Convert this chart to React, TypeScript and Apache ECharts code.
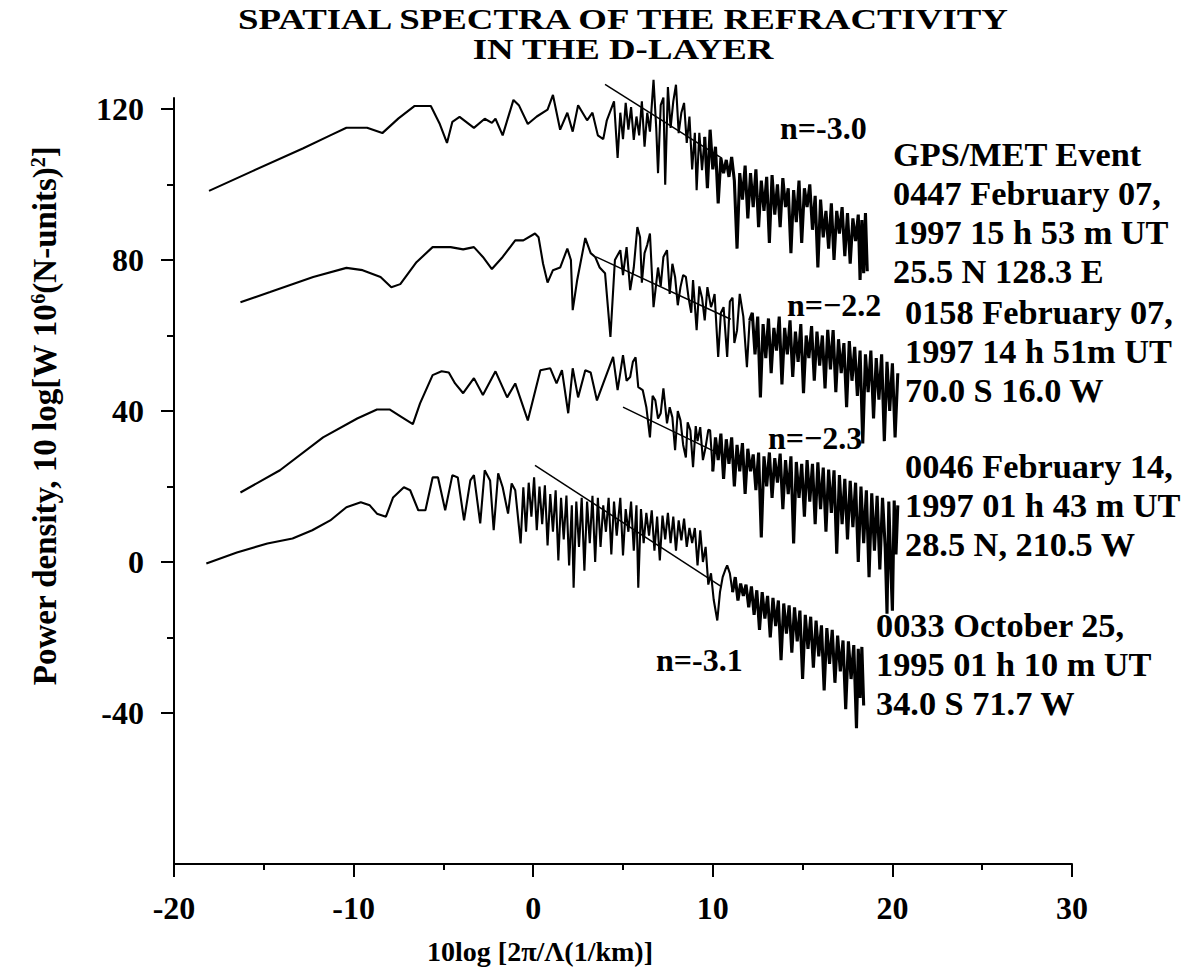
import React, { useEffect, useRef } from "react";
import * as echarts from "echarts";

// ---- data ----
const xTickValues = [-20, -10, 0, 10, 20, 30];
const yLabelValues = [-40, 0, 40, 80, 120];
const yMinorValues = [-20, 20, 60, 100];

// Event 0447 Feb 07 1997
const curve1: number[][] = [
  [-18.05, 98.3], [-15.6, 103.6], [-12.8, 109.6], [-11.3, 113], [-10.4, 115], [-9.25, 115], [-8.4, 113.6],
  [-7.5, 117.5], [-6.6, 120.8], [-5.7, 120.8], [-5.2, 116], [-4.8, 111], [-4.5, 116.6], [-4.1, 117.9],
  [-3.3, 115], [-2.7, 117.4], [-2.3, 116.3], [-2.1, 117.4], [-1.7, 113], [-1.1, 122.4], [-0.8, 121],
  [-0.3, 116], [0.2, 118], [0.8, 119.8], [1.1, 123.7], [1.5, 114.5], [1.9, 119], [2.2, 114], [2.5, 121],
  [3.0, 117], [3.3, 119], [3.6, 113], [3.9, 112], [4.1, 117], [4.5, 122],
  [4.7, 107], [4.85, 119], [5.0, 112], [5.15, 121.6], [5.3, 114.5], [5.45, 120.5], [5.6, 111.8], [5.75, 118],
  [5.9, 113], [6.05, 122], [6.2, 110], [6.35, 119], [6.5, 114], [6.7, 127.7], [6.85, 115], [6.95, 103],
  [7.1, 121], [7.25, 123], [7.35, 99.9], [7.5, 125.8], [7.65, 115], [7.8, 122], [7.95, 126.4], [8.1, 113.6],
  [8.25, 119], [8.4, 121.6], [8.55, 111], [8.7, 118], [8.85, 104], [9.0, 113.7], [9.1, 98.5], [9.25, 113.7],
  [9.4, 103.8], [9.55, 112.6], [9.7, 99], [9.85, 114.5], [10.0, 104], [10.15, 110], [10.3, 95], [10.45, 107],
  [10.6, 103], [10.75, 106.5], [10.9, 102], [11.05, 107.3], [11.2, 101], [11.35, 83], [11.5, 103], [11.65, 96],
  [11.8, 105], [11.95, 91], [12.1, 103], [12.25, 94], [12.4, 104], [12.55, 88.7], [12.7, 101], [12.85, 93],
  [13.0, 102], [13.15, 84.5], [13.3, 102.5], [13.45, 92], [13.6, 100], [13.75, 88.7], [13.9, 101.7], [14.05, 94],
  [14.2, 99], [14.35, 81.8], [14.5, 98.5], [14.65, 90], [14.8, 101], [14.95, 84.5], [15.1, 99], [15.25, 94],
  [15.4, 100], [15.55, 88], [15.7, 97], [15.85, 78], [16.0, 96], [16.15, 86], [16.3, 93], [16.45, 83],
  [16.6, 95], [16.75, 80], [16.9, 93], [17.05, 87], [17.2, 94], [17.35, 81], [17.5, 92.4], [17.65, 79],
  [17.8, 91], [17.95, 85], [18.1, 92], [18.2, 74.7], [18.3, 90.6], [18.4, 76.5], [18.5, 92.4], [18.6, 77],
];

// Event 0158 Feb 07 1997
const curve2: number[][] = [
  [-16.3, 68.8], [-14.65, 71.5], [-12.25, 75.5], [-10.4, 77.9], [-9.5, 77.3], [-8.5, 75.5], [-7.9, 72.8],
  [-7.4, 73.6], [-6.5, 79.4], [-5.6, 83.4], [-4.6, 83.4], [-3.9, 82.8], [-3.3, 83.4], [-2.8, 80.8],
  [-2.3, 77.6], [-1.7, 80.8], [-1.0, 85.2], [-0.55, 85.2], [0.1, 87], [0.3, 86], [0.55, 79], [0.8, 74],
  [1.1, 77.3], [1.5, 78], [1.9, 83], [2.1, 80], [2.2, 66.7], [2.45, 74.7], [2.9, 85.8], [3.2, 81.8],
  [3.45, 80.8], [3.7, 78], [4.0, 76.5], [4.3, 59.6], [4.55, 80], [4.85, 82.6], [5.0, 76], [5.2, 83.4],
  [5.4, 72], [5.6, 78], [5.8, 88.7], [5.95, 86], [6.05, 74], [6.2, 81.8], [6.35, 84], [6.5, 87], [6.7, 67.5],
  [6.95, 78], [7.1, 73], [7.25, 80.8], [7.45, 82.6], [7.6, 71], [7.75, 79], [7.9, 75.5], [8.05, 68],
  [8.2, 72.8], [8.35, 76], [8.5, 75.5], [8.65, 70], [8.8, 66], [8.9, 74.7], [9.1, 61.4], [9.25, 73],
  [9.4, 70], [9.55, 64], [9.7, 72.8], [9.9, 67.5], [10.0, 69], [10.1, 71], [10.3, 54.3], [10.45, 66],
  [10.6, 67.5], [10.8, 54.3], [10.95, 69], [11.1, 70], [11.2, 58], [11.35, 61.4], [11.5, 71], [11.7, 65],
  [11.9, 51.6], [12.05, 64], [12.2, 66], [12.35, 55], [12.5, 65], [12.65, 43.6], [12.8, 63], [12.95, 54],
  [13.1, 64.5], [13.25, 50], [13.4, 62], [13.55, 56], [13.7, 65], [13.85, 47], [14.0, 62], [14.15, 55],
  [14.3, 64], [14.45, 49], [14.6, 61], [14.75, 53], [14.9, 63], [15.05, 44.7], [15.2, 60], [15.35, 54],
  [15.5, 62.5], [15.65, 48], [15.8, 61], [15.95, 52], [16.1, 60], [16.25, 46], [16.4, 61.5], [16.55, 51],
  [16.7, 61.4], [16.85, 45], [17.0, 59], [17.15, 50], [17.3, 58], [17.45, 41], [17.6, 58.5], [17.75, 48],
  [17.9, 57], [18.05, 44], [18.2, 56], [18.35, 31.4], [18.5, 55], [18.65, 45], [18.8, 56], [18.95, 38],
  [19.1, 54], [19.25, 43], [19.4, 55], [19.55, 32], [19.7, 53], [19.85, 40], [20.0, 52.6], [20.15, 33],
  [20.3, 50],
];

// Event 0046 Feb 14 1997
const curve3: number[][] = [
  [-16.3, 18.4], [-14.1, 24.3], [-11.7, 33], [-9.8, 38], [-8.7, 40.4], [-8.0, 40.4], [-7.3, 38.3],
  [-6.7, 36.5], [-6.3, 42], [-5.6, 49.5], [-5.1, 50.5], [-4.7, 50.2], [-4.35, 47.3], [-3.9, 44.7],
  [-3.3, 48.7], [-2.8, 44.2], [-2.1, 50.5], [-1.45, 43.6], [-1.0, 47.3], [-0.3, 37.5], [0.4, 50.8],
  [0.95, 51.3], [1.3, 47.3], [1.6, 50.8], [1.95, 39.4], [2.2, 51.3], [2.5, 43.6], [2.9, 50.8], [3.2, 50.2],
  [3.55, 42.8], [3.9, 47.3], [4.45, 54.3], [4.7, 45.5], [5.0, 54.8], [5.2, 48], [5.4, 49], [5.55, 53],
  [5.7, 54.2], [5.85, 46.3], [6.1, 45.5], [6.3, 41], [6.5, 33], [6.65, 44], [6.8, 42.8], [6.95, 38],
  [7.1, 39.4], [7.25, 46], [7.45, 36.7], [7.6, 41], [7.75, 38.3], [7.9, 29.6], [8.05, 40], [8.2, 37.5],
  [8.35, 31], [8.5, 27.7], [8.6, 37], [8.75, 34.9], [8.9, 25.1], [9.05, 36], [9.15, 32], [9.3, 35.7],
  [9.45, 27], [9.6, 30.4], [9.75, 35], [9.85, 34.9], [10.0, 24], [10.15, 33], [10.3, 27], [10.45, 34],
  [10.6, 22], [10.75, 32.5], [10.9, 26], [11.05, 33], [11.2, 20], [11.35, 31], [11.5, 24], [11.65, 31.5],
  [11.8, 18], [11.95, 30], [12.1, 24], [12.25, 28.5], [12.4, 19], [12.55, 29], [12.7, 6.5], [12.85, 28],
  [13.0, 20], [13.15, 29], [13.3, 17], [13.45, 27.5], [13.6, 21], [13.75, 28.7], [13.9, 14], [14.05, 27],
  [14.2, 18], [14.35, 28], [14.5, 4.9], [14.65, 26.5], [14.8, 17], [14.95, 26], [15.1, 12], [15.25, 27],
  [15.4, 16], [15.55, 26], [15.7, 10], [15.85, 26.4], [16.0, 14], [16.15, 25], [16.3, 8], [16.45, 24.5],
  [16.6, 13], [16.75, 24.3], [16.9, 2.2], [17.05, 23], [17.2, 10], [17.35, 22], [17.5, 6], [17.65, 21.5],
  [17.8, 9.2], [17.95, 21], [18.1, 0], [18.25, 20], [18.4, 5], [18.55, 19], [18.7, -4], [18.85, 18.2],
  [19.0, 3], [19.15, 17.5], [19.3, -2], [19.45, 17], [19.6, 3.8], [19.7, -13.7], [19.8, 16], [19.9, 0],
  [20.0, -12.9], [20.1, 16.3], [20.2, 2], [20.3, 15],
];

// Event 0033 Oct 25 1995
const curve4: number[][] = [
  [-18.2, -0.4], [-16.5, 2.5], [-14.8, 4.9], [-13.4, 6.2], [-12.3, 8.4], [-11.3, 11], [-10.4, 14.5],
  [-9.6, 15.8], [-9.1, 15], [-8.7, 12.8], [-8.2, 12], [-7.8, 17.1], [-7.2, 19.8], [-6.85, 19], [-6.4, 13.7],
  [-6.0, 13.7], [-5.6, 22.4], [-5.3, 22.4], [-4.9, 13.7], [-4.5, 23], [-4.2, 22.4], [-3.85, 11], [-3.5, 21.6],
  [-3.3, 23], [-2.95, 10.2], [-2.7, 24.3], [-2.4, 21.6], [-2.2, 8.4], [-1.95, 23.5], [-1.7, 19.8],
  [-1.4, 12.8], [-1.2, 20.8], [-1.0, 19], [-0.7, 4.9], [-0.55, 19.8], [-0.4, 8], [-0.25, 21], [-0.1, 12],
  [0.05, 22.4], [0.2, 8.4], [0.35, 20], [0.5, 10], [0.65, 20.3], [0.8, 4.4], [0.95, 18], [1.1, 8], [1.25, 19],
  [1.4, 0.4], [1.55, 17], [1.7, 6], [1.85, 17.6], [2.0, -0.9], [2.15, 15], [2.25, -6.8], [2.4, 16], [2.55, 4],
  [2.7, 17], [2.85, -2.3], [3.0, 16], [3.15, 5], [3.3, 17.5], [3.45, 0], [3.6, 17], [3.75, 4], [3.9, 15],
  [4.05, 8], [4.2, 17], [4.35, 2], [4.5, 16], [4.65, 7], [4.85, 17], [5.0, 1.7], [5.15, 14], [5.3, 8],
  [5.45, 16], [5.6, 3], [5.75, 15], [5.85, -6.8], [6.0, 14], [6.15, 5], [6.3, 13], [6.45, 7], [6.6, 13.7],
  [6.75, 3], [6.9, 12], [7.05, 0.4], [7.2, 12.3], [7.35, 6], [7.5, 13], [7.65, 5], [7.8, 12], [7.95, 3],
  [8.1, 11], [8.25, 5.7], [8.4, 11.5], [8.55, 4], [8.7, 9], [8.85, 5], [9.0, 9], [9.15, -0.9], [9.3, 8.4],
  [9.45, 0], [9.6, 4], [9.75, -6], [9.9, -3], [10.05, -10], [10.25, -15.5], [10.4, -8], [10.55, -4],
  [10.7, -2], [10.8, -0.9], [10.95, -3], [11.1, -8], [11.25, -4], [11.4, -10.2], [11.55, -5.7], [11.7, -9],
  [11.85, -6], [12.0, -12], [12.15, -6.5], [12.3, -14], [12.45, -7.5], [12.6, -18], [12.75, -8], [12.9, -15],
  [13.05, -9], [13.2, -20], [13.35, -9.5], [13.5, -17], [13.65, -10.2], [13.8, -26], [13.95, -11], [14.1, -19],
  [14.25, -11.5], [14.4, -24], [14.55, -12], [14.7, -21], [14.85, -12.9], [15.0, -31], [15.15, -14],
  [15.3, -23], [15.45, -14.5], [15.6, -28], [15.75, -15.5], [15.9, -25], [16.05, -16.8], [16.2, -34],
  [16.35, -17.5], [16.5, -27], [16.65, -18], [16.8, -32], [16.95, -19.5], [17.1, -29], [17.25, -20.8],
  [17.4, -39], [17.55, -21], [17.7, -31], [17.85, -22], [18.0, -44], [18.1, -23], [18.2, -36], [18.3, -22.5],
  [18.4, -38],
];

// fitted power-law lines (start, end)
const fit1: number[][] = [[4.0, 126.5], [10.5, 107]];
const fit2: number[][] = [[3.5, 80.8], [11.0, 64.3]];
const fit3: number[][] = [[5.0, 41], [10.0, 29.5]];
const fit4: number[][] = [[0.1, 25.6], [10.5, -6.6]];

const slopeLabels = ["n=-3.0", "n=\u22122.2", "n=\u22122.3", "n=-3.1"];
const eventLabels = [
  ["GPS/MET Event", "0447 February 07,", "1997 15 h 53 m UT", "25.5 N 128.3 E"],
  ["0158 February 07,", "1997 14 h 51m UT", "70.0 S 16.0 W"],
  ["0046 February 14,", "1997 01 h 43 m UT", "28.5 N, 210.5 W"],
  ["0033 October 25,", "1995 01 h 10 m UT", "34.0 S 71.7 W"],
];
const titleLines = ["SPATIAL SPECTRA OF THE REFRACTIVITY", "IN THE D-LAYER"];
const xAxisTitle = "10log [2\u03C0/\u039B(1/km)]";

const FONT = "'Liberation Serif', 'DejaVu Serif', serif";

// x where each spectrum becomes a dense band (styling only)
const denseFrom = [9.5, 12.0, 10.0, 11.0];

export default function App() {
  const ref = useRef<HTMLDivElement>(null);
  useEffect(() => {
    document.body.style.margin = "0";
    if (!ref.current) return;
    const chart = echarts.init(ref.current, null, { renderer: "svg" });

    const lineSeries = (data: number[][], w: number) => ({
      type: "line",
      data,
      showSymbol: false,
      symbol: "none",
      clip: false,
      lineStyle: { color: "#000", width: w },
      z: 3,
    });

    const splitCurve = (d: number[][], xs: number) => {
      let i = d.findIndex((p) => p[0] >= xs);
      if (i < 0) i = d.length - 1;
      return [d.slice(0, i + 1), d.slice(i)];
    };

    const txt = (text: string, x: number, y: number, size: number, extra: any = {}, el: any = {}) => ({
      type: "text",
      x,
      y,
      ...el,
      style: {
        text,
        fill: "#000",
        fontFamily: FONT,
        fontSize: size,
        fontWeight: "bold",
        verticalAlign: "middle",
        ...extra,
      },
    });

    const graphics: any[] = [];
    graphics.push(txt(titleLines[0], 623, 19, 29, { align: "center", lineHeight: 29 }, { scaleX: 1.27, scaleY: 1.03 }));
    graphics.push(txt(titleLines[1], 623, 49, 29, { align: "center", lineHeight: 29 }, { scaleX: 1.27, scaleY: 1.03 }));
    graphics.push(txt(xAxisTitle, 540, 951, 28, { align: "center" }));
    graphics.push({
      type: "text",
      x: 45,
      y: 416,
      rotation: Math.PI / 2,
      style: {
        text: "Power density, 10 log[W 10{sup|6}(N-units){sup|2}]",
        fill: "#000",
        fontFamily: FONT,
        fontSize: 33,
        fontWeight: "bold",
        align: "center",
        verticalAlign: "middle",
        rich: {
          sup: { fontSize: 20, fontFamily: FONT, fontWeight: "bold", verticalAlign: "top", padding: [0, 0, 14, 0] },
        },
      },
    });
    // slope labels
    const slopePos = [[780, 128], [787, 305], [768, 438], [656, 660]];
    slopeLabels.forEach((s, i) => graphics.push(txt(s, slopePos[i][0], slopePos[i][1], 32)));
    // event labels
    const evPos = [[893, 155], [905, 313], [905, 467], [876, 626]];
    eventLabels.forEach((lines, i) =>
      lines.forEach((l, j) =>
        graphics.push(txt(l, evPos[i][0], evPos[i][1] + j * 39, 33, { lineHeight: 36 }, { scaleX: 1.04 }))
      )
    );

    const series: any[] = [];
    [curve1, curve2, curve3, curve4].forEach((c, i) => {
      const [a, b] = splitCurve(c, denseFrom[i]);
      series.push(lineSeries(a, 2.1));
      series.push(lineSeries(b, 3.1));
    });
    [fit1, fit2, fit3, fit4].forEach((f) => series.push(lineSeries(f, 1.5)));

    chart.setOption({
      animation: false,
      backgroundColor: "#fff",
      grid: { left: 174, right: 114, top: 98, bottom: 104, containLabel: false },
      xAxis: {
        type: "value",
        min: xTickValues[0],
        max: xTickValues[xTickValues.length - 1],
        interval: 10,
        axisLine: { show: true, onZero: false, lineStyle: { color: "#000", width: 2 } },
        axisTick: { show: true, length: 13, lineStyle: { color: "#000", width: 2 } },
        minorTick: { show: true, splitNumber: 2, length: 6, lineStyle: { color: "#000", width: 2 } },
        splitLine: { show: false },
        axisLabel: { color: "#000", fontFamily: FONT, fontWeight: "bold", fontSize: 32, margin: 28 },
      },
      yAxis: [
        {
          type: "value",
          min: -80,
          max: 122.9,
          interval: 40,
          axisLine: { show: true, onZero: false, lineStyle: { color: "#000", width: 2 } },
          axisTick: { show: true, length: 13, customValues: yLabelValues, lineStyle: { color: "#000", width: 2 } },
          splitLine: { show: false },
          axisLabel: {
            color: "#000",
            fontFamily: FONT,
            fontWeight: "bold",
            fontSize: 32,
            margin: 30,
            customValues: yLabelValues,
          },
        },
        {
          type: "value",
          position: "left",
          min: -80,
          max: 122.9,
          interval: 20,
          axisLine: { show: false, onZero: false },
          axisTick: { show: true, length: 7, customValues: yMinorValues, lineStyle: { color: "#000", width: 2 } },
          axisLabel: { show: false },
          splitLine: { show: false },
        },
      ],
      graphic: graphics,
      series,
    });
    return () => chart.dispose();
  }, []);
  return <div ref={ref} style={{ width: 1186, height: 968 }} />;
}
